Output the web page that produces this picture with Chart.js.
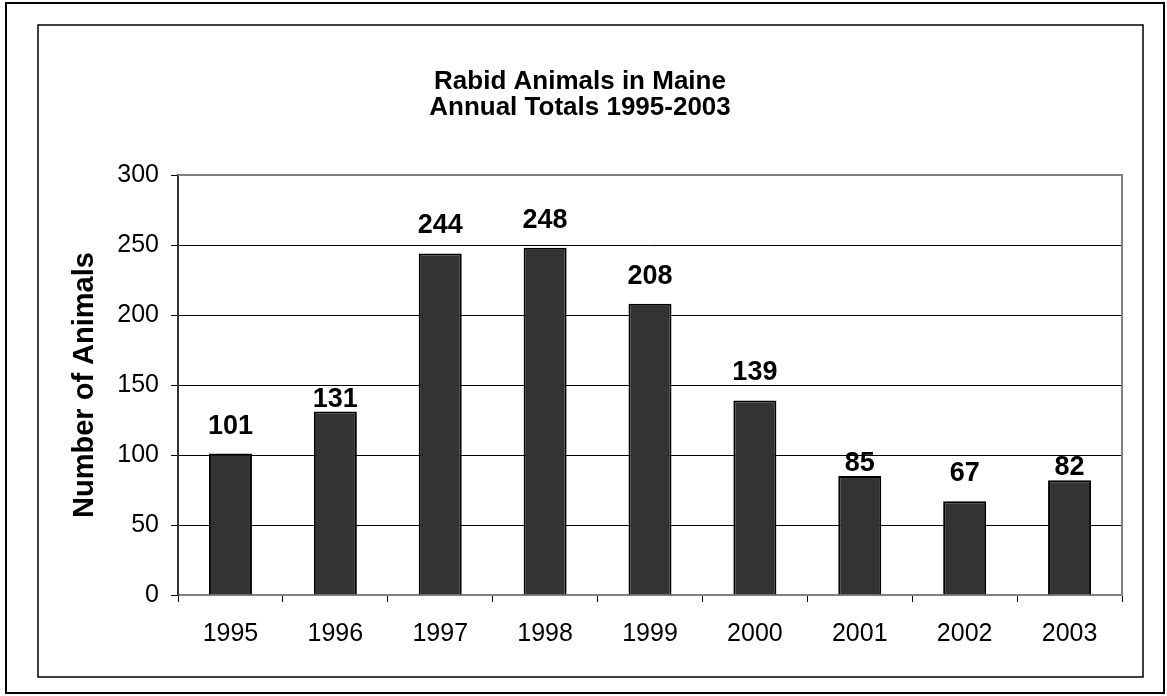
<!DOCTYPE html>
<html>
<head>
<meta charset="utf-8">
<script src="https://cdn.jsdelivr.net/npm/chart.js@4.4.0/dist/chart.umd.min.js"></script>
<style>
  body { margin: 0; background: #fff; }
  canvas { display: block; }
</style>
</head>
<body>
<canvas id="myChart" width="1167" height="696"></canvas>
<script>
// rabid animals per year
const years = ['1995', '1996', '1997', '1998', '1999', '2000', '2001', '2002', '2003'];
const totals = [101, 131, 244, 248, 208, 139, 85, 67, 82];
const titleLines = ['Rabid Animals in Maine', 'Annual Totals 1995-2003'];
const yTitle = 'Number of Animals';

// page frames
const framePlugin = {
    id: 'frames',
    beforeDraw(chart) {
        const c = chart.ctx;
        c.save();
        c.fillStyle = '#fff';
        c.fillRect(0, 0, chart.width, chart.height);
        c.strokeStyle = '#000';
        c.lineWidth = 2;
        c.strokeRect(6, 3, 1158, 690);
        c.lineWidth = 1.5;
        c.strokeRect(38, 25, 1105, 652);
        c.restore();
    },
    afterDraw(chart) {
        // gray top/right edges of the plot
        const a = chart.chartArea;
        const c = chart.ctx;
        c.save();
        c.strokeStyle = '#808080';
        c.lineWidth = 2;
        c.beginPath();
        c.moveTo(a.left, a.top);
        c.lineTo(a.right, a.top);
        c.lineTo(a.right, a.bottom);
        c.stroke();
        c.restore();
    }
};

// value labels above bars, pushed down to the bar when a gridline is in the way
const labelPlugin = {
    id: 'barLabels',
    afterDatasetsDraw(chart) {
        const c = chart.ctx;
        const y = chart.scales.y;
        const grid = y.ticks.map(t => y.getPixelForValue(t.value));
        c.save();
        c.font = 'bold 27px Arial, "Liberation Sans", sans-serif';
        c.fillStyle = '#000';
        c.textAlign = 'center';
        c.textBaseline = 'alphabetic';
        chart.getDatasetMeta(0).data.forEach((bar, i) => {
            let base = bar.y - 20;
            const top = base - 20;
            if (grid.some(g => g > top - 1 && g < base + 1)) base = bar.y - 5;
            c.fillText(totals[i], bar.x, base);
        });
        c.restore();
    }
};

const ctx = document.getElementById('myChart');
const myChart = new Chart(ctx, {
    type: 'bar',
    data: {
        labels: years,
        datasets: [{
            data: totals,
            backgroundColor: '#333333',
            borderColor: '#000000',
            borderWidth: 2,
            barPercentage: 0.41,
            categoryPercentage: 1
        }]
    },
    options: {
        responsive: false,
        animation: false,
        layout: { padding: { left: 38, right: 45, top: 0, bottom: 19 } },
        plugins: {
            legend: { display: false },
            tooltip: { enabled: false },
            title: {
                display: true,
                text: titleLines,
                color: '#000',
                font: { family: 'Arial, "Liberation Sans", sans-serif', size: 26, weight: 'bold', lineHeight: 1.0 },
                padding: { top: 69, bottom: 54 }
            }
        },
        scales: {
            x: {
                afterFit(scale) { scale.height = 82; },
                grid: {
                    offset: true,
                    drawOnChartArea: false,
                    tickLength: 7,
                    color: '#000'
                },
                border: { color: '#808080', width: 2 },
                ticks: {
                    color: '#000',
                    padding: 17,
                    maxRotation: 0,
                    font: { family: 'Arial, "Liberation Sans", sans-serif', size: 25 }
                }
            },
            y: {
                min: 0,
                max: 300,
                afterFit(scale) { scale.width = 140; },
                grid: {
                    color: '#000',
                    lineWidth: 1,
                    tickLength: 7
                },
                border: { color: '#333', width: 2 },
                ticks: {
                    stepSize: 50,
                    color: '#000',
                    padding: 12,
                    font: { family: 'Arial, "Liberation Sans", sans-serif', size: 25 }
                },
                title: {
                    display: true,
                    text: yTitle,
                    color: '#000',
                    padding: { top: 30, bottom: 0 },
                    font: { family: 'Arial, "Liberation Sans", sans-serif', size: 29, weight: 'bold' }
                }
            }
        }
    },
    plugins: [framePlugin, labelPlugin]
});
</script>
</body>
</html>
